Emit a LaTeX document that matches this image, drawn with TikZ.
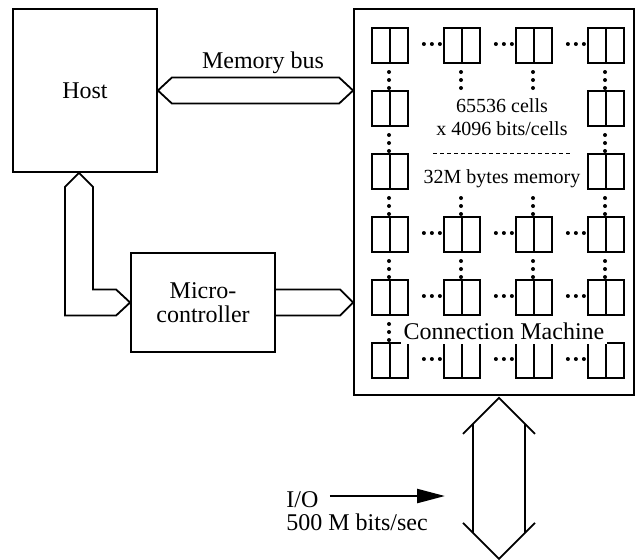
\documentclass[tikz,border=0pt]{standalone}
\usepackage{fontspec}
\setmainfont{Liberation Serif}
\usetikzlibrary{arrows.meta,calc}

\tikzset{
  blk/.style={draw, line width=0.9pt, inner sep=0pt, align=center},
  cell/.style={draw, line width=0.9pt, minimum width=18pt, minimum height=17.5pt, inner sep=0pt},
  bus/.style={line width=0.9pt, line join=miter},
  lbl/.style={inner sep=0pt, anchor=base},
  memtxt/.style={lbl, font=\fontsize{10}{12}\selectfont},
}

\begin{document}
\begin{tikzpicture}[x=0.5pt, y=-0.5pt, font=\fontsize{12}{12}\selectfont]
  \useasboundingbox (0,0) rectangle (635,559);
  \pgfmathsetmacro{\cw}{72}
  \pgfmathsetmacro{\rh}{63}
  % Blocks
  \node[blk, minimum width=72pt, minimum height=81.5pt] (host) at (85,90.5) {Host};
  \node[blk, minimum width=72pt, minimum height=49.5pt] (micro) at (203,302.5) {Micro-\\controller};
  \node[blk, minimum width=140pt, minimum height=193pt] (cm) at (494,202) {};
  % Cells
  \foreach \r in {0,...,5}{
    \foreach \c in {0,...,3}{
      \pgfmathtruncatemacro{\gap}{(\r==1 || \r==2) && (\c==1 || \c==2)}
      \ifnum\gap=0
        \node[cell] (c\r\c) at (390+\c*\cw, 45.5+\r*\rh) {};
        \draw[line width=0.9pt] (c\r\c.north) -- (c\r\c.south);
      \fi
    }
  }
  % Dots along rows
  \foreach \r in {0,3,4,5}{
    \foreach \c in {0,1,2}{
      \foreach \d in {15,23,31}
        \fill ($(c\r\c.east)+(\d,-1.5)$) circle[radius=1pt];
    }
  }
  % Dots down columns
  \foreach \r in {0,...,4}{
    \foreach \c in {0,...,3}{
      \pgfmathtruncatemacro{\gap}{(\r==1 || \r==4) && (\c==1 || \c==2)}
      \ifnum\gap=0
        \foreach \d in {9,17,25}
          \fill (389+\c*\cw, 63+\r*\rh+\d) circle[radius=1pt];
      \fi
    }
  }
  % Memory text
  \node[memtxt] (cells) at (502,112) {65536 cells};
  \node[memtxt] (bits) at (502,135) {x 4096 bits/cells};
  \draw[line width=0.5pt, dash pattern=on 2pt off 1.5pt] (433,153) -- (573,153);
  \node[memtxt] (mem) at (502,183) {32M bytes memory};
  \node[lbl, fill=white, inner xsep=1.5pt, inner ysep=2.5pt] (cmname) at (504,339) {Connection Machine};
  % Memory bus
  \coordinate (mb) at (cm.west |- host.east);
  \draw[bus] (host.east) -- ++(14,-13) -- ($(mb)+(-14,-13)$) -- (mb) -- ++(-14,13) -- ($(host.east)+(14,13)$) -- cycle;
  \node[lbl] (mblbl) at ($(host.east)!0.5!(mb)+(7.5,-22.5)$) {Memory bus};
  % Controller bus
  \coordinate (cb) at (cm.west |- micro.east);
  \draw[bus] ($(micro.east)+(0,-13)$) -- ($(cb)+(-13,-13)$) -- (cb) -- ($(cb)+(-13,13)$) -- ($(micro.east)+(0,13)$);
  % Host to controller bus
  \coordinate (hb) at ($(host.south)+(-6,0)$);
  \draw[bus] (hb) -- ++(-14,14) -- ($(hb |- micro.west)+(-14,13)$) -- ($(micro.west)+(-14,13)$) -- (micro.west)
    -- ($(micro.west)+(-14,-13)$) -- ($(hb |- micro.west)+(14,-13)$) -- ($(hb)+(14,14)$) -- cycle;
  % I/O bus
  \coordinate (iot) at ($(cm.south)+(5,2)$);
  \coordinate (iob) at ($(iot)+(0,161)$);
  \draw[bus] ($(iot)+(-36,36)$) -- (iot) -- ++(36,36);
  \draw[bus] ($(iot)+(-26,26)$) -- ($(iob)+(-26,-26)$);
  \draw[bus] ($(iot)+(26,26)$) -- ($(iob)+(26,-26)$);
  \draw[bus] ($(iob)+(-36,-36)$) -- (iob) -- ++(36,-36);
  % I/O rate
  \node[lbl, anchor=base west] (io) at (286,507) {I/O};
  \node[lbl, anchor=base west] (rate) at (286,530) {500 M bits/sec};
  \coordinate (iotip) at (445,496);
  \draw[line width=1.2pt, shorten <=5.5pt, -{Triangle[length=14pt,width=7pt]}] (io.east |- iotip) -- (iotip);
\end{tikzpicture}
\end{document}
